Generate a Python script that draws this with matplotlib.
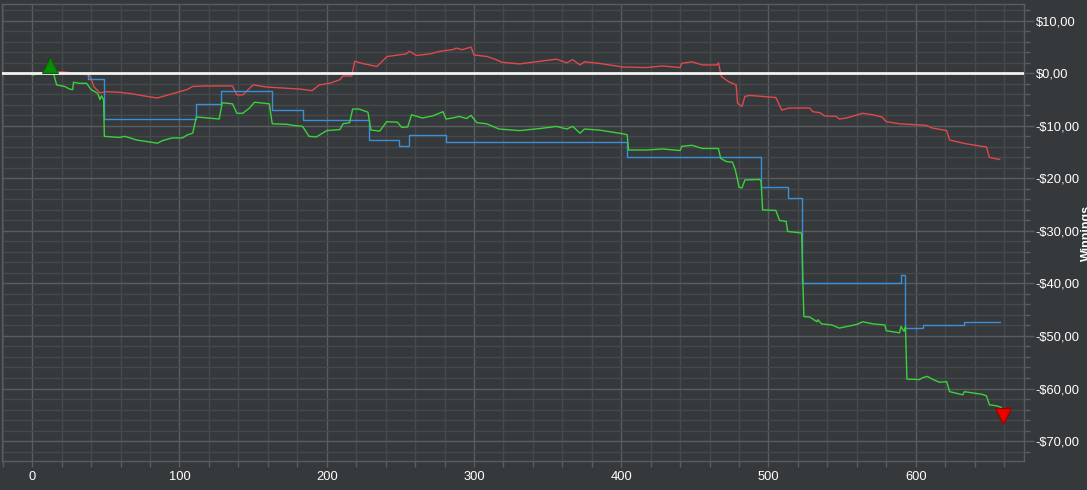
import matplotlib
matplotlib.use("Agg")
import matplotlib.pyplot as plt
from matplotlib.ticker import MultipleLocator, FuncFormatter

plt.rcParams["font.family"] = ["Liberation Sans", "DejaVu Sans"]

# hands vs. cumulative winnings
red_x = [0, 20, 39, 42, 46, 50.6, 59, 68, 78, 85, 95, 105, 109, 118, 136, 139, 143, 150,
         159, 182, 190, 195, 202, 209, 211, 217, 219, 224, 234, 241, 254, 256, 261, 270,
         277, 285.5, 288, 292, 298, 300, 309, 315, 319, 331, 345, 356, 363, 367, 372, 375,
         385, 401, 417, 428, 440, 441, 448, 455, 465, 466, 468, 473, 478, 479, 482, 484,
         487, 505, 509, 514, 528, 530, 535, 538, 546, 548, 553, 564, 571, 577, 580, 589,
         607, 611, 621, 623, 634, 645, 648, 650, 657]
red_y = [0, 0.3, -0.3, -2.6, -3.7, -3.5, -3.6, -3.9, -4.4, -4.7, -3.9, -3.1, -2.5, -2.4,
         -2.4, -4.1, -4.1, -2.2, -2.6, -3.0, -3.3, -2.2, -1.9, -1.2, -0.5, -0.5, 2.3, 1.9,
         1.3, 3.2, 3.7, 4.2, 3.4, 3.7, 4.2, 4.5, 4.8, 4.5, 5.0, 3.5, 3.2, 2.6, 2.1, 1.8,
         2.3, 2.7, 2.0, 2.6, 1.6, 2.2, 1.9, 1.2, 1.1, 1.4, 1.1, 1.9, 2.2, 1.6, 1.6, 2.0,
         -0.6, -1.6, -2.2, -5.7, -6.3, -4.4, -4.2, -4.6, -7.0, -6.6, -6.6, -7.3, -7.5,
         -8.1, -8.2, -8.7, -8.5, -7.6, -7.9, -8.3, -9.2, -9.6, -9.9, -10.4, -10.9, -12.7,
         -13.4, -13.9, -14.0, -16.0, -16.4]

blue_x = [0, 38, 48.5, 111, 128.5, 163, 184, 229, 249, 256, 281, 404, 495, 513, 523,
          589, 590, 592, 593, 604, 605, 632, 633, 657]
blue_y = [0, -1.1, -8.7, -5.8, -3.4, -7.0, -8.9, -12.7, -13.8, -11.8, -13.0, -15.9,
          -21.7, -23.8, -40.0, -40.0, -38.4, -38.4, -48.5, -48.5, -47.9, -47.9, -47.4,
          -47.4]

green_x = [0, 5, 10.5, 14, 16.6, 22, 25.5, 27.5, 28, 32, 37, 40, 44.5, 46, 47, 48.5, 49,
           59, 63, 71, 78, 85, 88.6, 95, 102, 105.5, 109, 111.5, 127, 129, 136, 139, 143,
           147.6, 151, 161, 163, 173, 177, 183.6, 188, 193, 200, 209, 211, 215.5, 217.6,
           222, 228, 230, 236, 240.7, 248, 251, 255, 257.6, 265, 272, 279, 281, 285.5,
           290, 295, 298, 302, 308.6, 317, 331, 345, 356, 363, 367, 372, 375, 385, 401,
           404, 405, 417, 428, 440, 441, 448, 455, 466, 467.5, 471.5, 475.5, 477.5, 479,
           480, 482, 484, 494, 495, 496, 505, 507.5, 512, 513, 522.5, 524, 528, 533,
           533.5, 536, 543, 548, 553, 560, 564, 571, 579, 580, 589, 590, 592, 593, 594,
           602.5, 605, 608, 611, 616, 621, 623, 632, 633, 645, 648, 650, 655, 658]
green_y = [-0.3, -0.1, 0.5, 0.5, -2.2, -2.5, -3.0, -3.1, -1.7, -1.9, -1.9, -3.1, -3.8,
           -5.0, -4.3, -5.0, -12.0, -12.2, -12.0, -12.7, -13.0, -13.3, -12.8, -12.3,
           -12.3, -11.7, -11.4, -8.3, -8.7, -5.6, -5.8, -7.6, -7.6, -6.6, -5.5, -5.8,
           -9.6, -9.7, -9.9, -10.1, -12.0, -12.1, -10.9, -10.7, -9.6, -9.4, -6.8, -6.8,
           -7.4, -10.8, -11.0, -9.2, -9.3, -10.3, -10.2, -7.9, -8.5, -8.1, -7.3, -8.7,
           -8.5, -8.2, -8.6, -8.0, -9.4, -9.6, -10.6, -10.9, -10.5, -10.1, -10.6, -10.1,
           -11.4, -10.6, -10.8, -11.5, -11.7, -14.6, -14.6, -14.4, -14.7, -13.9, -13.7,
           -14.3, -14.3, -16.2, -16.8, -16.9, -18.4, -20.3, -21.7, -21.8, -20.3, -20.2,
           -20.6, -26.0, -26.1, -28.0, -28.2, -30.1, -30.4, -46.3, -46.4, -47.3, -46.9,
           -47.7, -47.9, -48.5, -48.2, -47.8, -47.3, -47.7, -47.9, -49.0, -49.4, -48.2,
           -49.1, -48.2, -58.2, -58.3, -57.9, -57.7, -58.2, -58.8, -58.7, -60.6, -61.2,
           -60.6, -61.1, -61.4, -63.1, -63.3, -63.6]

peak = (12, 1.6)
trough = (659, -65.3)

BG = "#36393c"
MAJOR = "#5a5d60"
MINOR = "#46494c"

fig = plt.figure(figsize=(10.87, 4.90), dpi=100, facecolor=BG)
ax = fig.add_axes([2 / 1087, 29 / 490, 1022 / 1087, 457 / 490])
ax.set_facecolor(BG)

ax.plot(red_x, red_y, color="#e0484a", lw=1.0, zorder=3)
ax.plot(blue_x, blue_y, color="#3a8fd6", lw=1.0, drawstyle="steps-post", zorder=3)
ax.plot(green_x, green_y, color="#3ad23a", lw=1.0, zorder=3)
ax.axhline(0, color="#f2f2f2", lw=2.0, zorder=4)

ax.plot(*peak, marker="^", ms=11, color="#0a8a0a", mec="#066006", mew=0.8, zorder=5)
ax.plot(*trough, marker="v", ms=11, color="#ee0000", mec="#9a0000", mew=0.8, zorder=5)

ax.set_xlim(-20.5, 673.5)
ax.set_ylim(-73.8, 13.2)

ax.xaxis.set_major_locator(MultipleLocator(100))
ax.xaxis.set_minor_locator(MultipleLocator(20))
ax.yaxis.set_major_locator(MultipleLocator(10))
ax.yaxis.set_minor_locator(MultipleLocator(2))

def money(v, pos):
    s = f"${abs(v):.2f}".replace(".", ",")
    return ("-" + s) if v < -1e-9 else s

ax.yaxis.set_major_formatter(FuncFormatter(money))
ax.yaxis.tick_right()
ax.yaxis.set_label_position("right")

ax.grid(which="major", color=MAJOR, lw=1.0, zorder=0)
ax.grid(which="minor", color=MINOR, lw=1.0, zorder=0)
ax.set_axisbelow(True)

ax.tick_params(which="both", colors=MAJOR, labelcolor="white", labelsize=9.3,
               direction="out")
ax.tick_params(which="major", length=7, width=1)
ax.tick_params(which="minor", length=4, width=1)
ax.tick_params(axis="x", which="major", length=4, pad=3)
ax.tick_params(axis="y", which="major", pad=1.5)

for sp in ax.spines.values():
    sp.set_color(MAJOR)
    sp.set_linewidth(1.0)

# the reference crops this label at the right edge
ax.set_ylabel("Winnings", color="white", fontsize=9, fontweight="bold", rotation=90)
ax.yaxis.set_label_coords(1.0555, 0.5)

fig.savefig("out.png", dpi=100, facecolor=BG)
